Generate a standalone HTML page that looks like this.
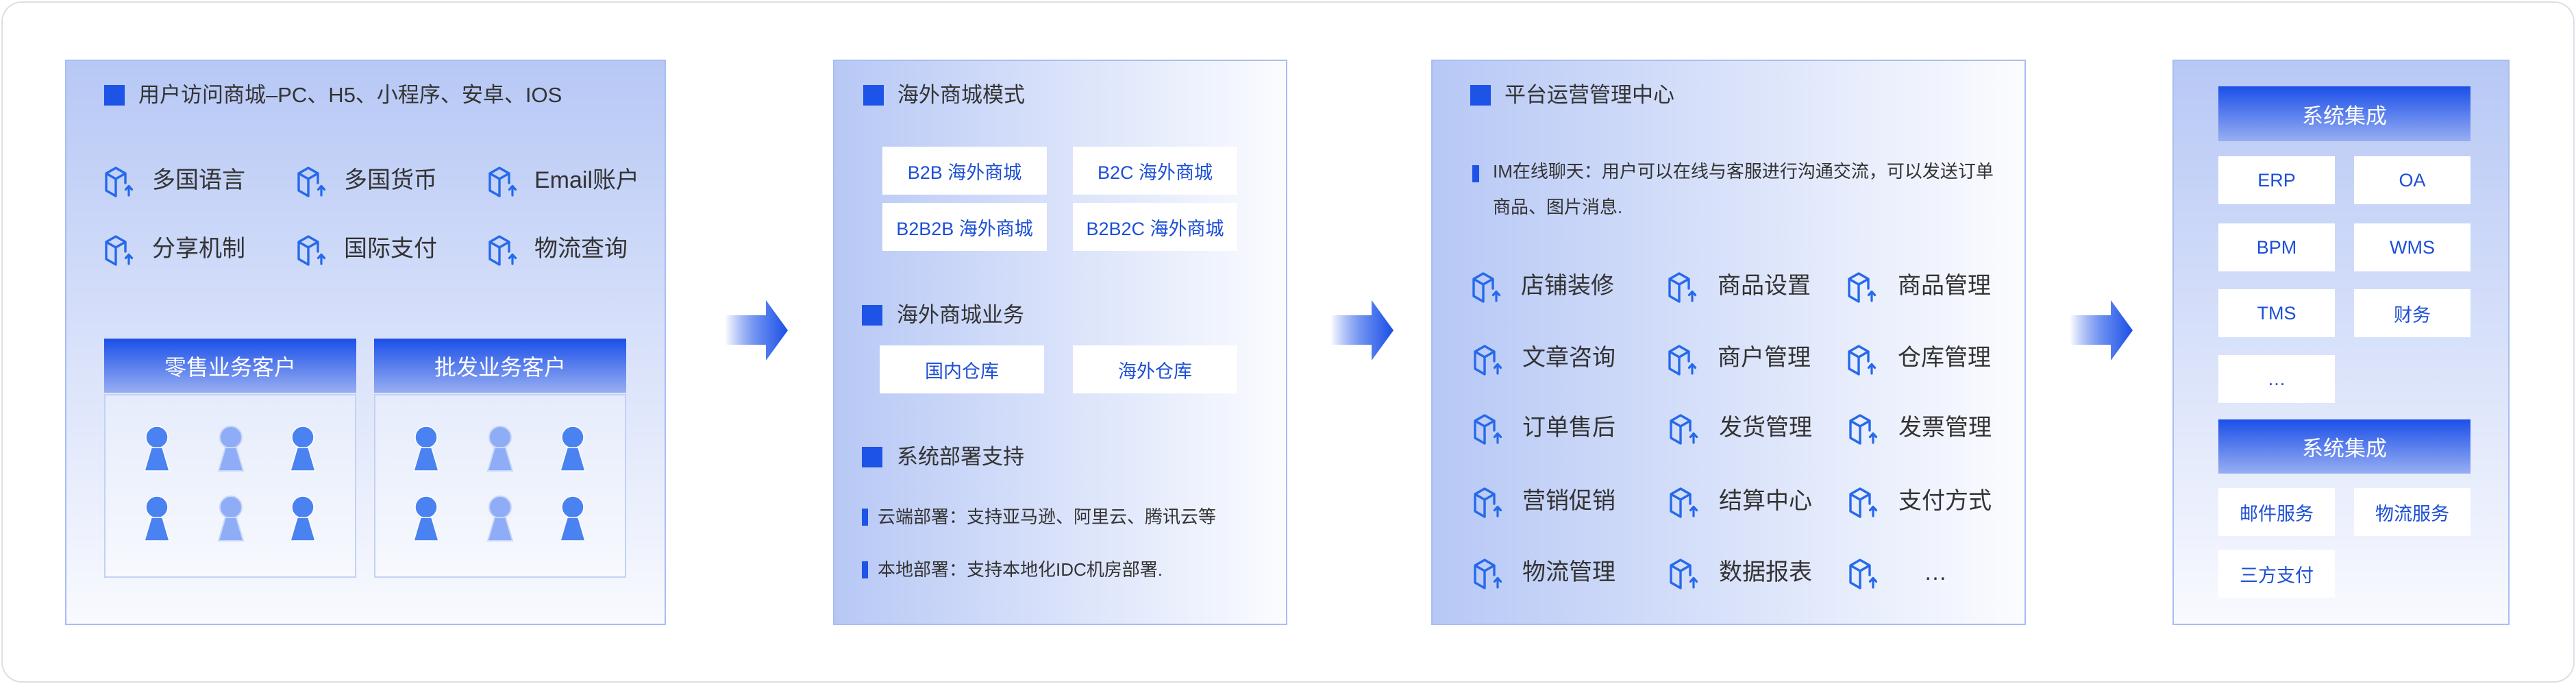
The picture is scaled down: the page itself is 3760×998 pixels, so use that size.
<!DOCTYPE html>
<html><head><meta charset="utf-8"><style>
*{margin:0;padding:0;box-sizing:border-box}
body{width:3760px;height:998px;background:#fff;position:relative;overflow:hidden;font-family:"Liberation Sans","Noto Sans CJK SC",sans-serif;}
.abs{position:absolute}
.outer{left:2px;top:2px;width:3756px;height:994px;border:2px solid #dcdfe6;border-radius:30px}
.panel{position:absolute;border:2px solid #a8bdf2;top:87px;height:825px}
.pv{background:linear-gradient(to bottom,#b7c8f5,#f9faff)}
.ph{background:linear-gradient(to right,#b7c8f5,#fbfcff)}
.sq{position:absolute;width:30px;height:30px;background:#1d53e6}
.t{position:absolute;white-space:nowrap;color:#333;line-height:1}
.ic{position:absolute;width:50px;height:50px}
.btn{position:absolute;background:#fff;color:#1d4fd6;font-size:27px;display:flex;align-items:center;justify-content:center;white-space:nowrap}
.hd{position:absolute;background:linear-gradient(to bottom,#1b4fe8,#97aef2);color:#fff;display:flex;align-items:center;justify-content:center;font-size:32px}
.bar{position:absolute;width:9px;height:25px;background:#1d53e6}
</style></head><body>
<div class="abs outer"></div>
<svg width="0" height="0" style="position:absolute"><defs>
<g id="cube" fill="none" stroke="#2569ec" stroke-width="3.4" stroke-linejoin="round" stroke-linecap="round">
<path d="M33 27 L33 13 L19 5 L5 13 L5 38 L19 46 M5 13 L19 21 L33 13 M19 21 L19 46"/>
<path d="M38 45 L38 32 M33.5 36.5 L38 31.5 L42.5 36.5" stroke-width="3.2"/>
</g>
<g id="pd"><circle cx="0" cy="0" r="16" fill="#4a82f2" stroke="#fff" stroke-width="1.5"/><path d="M-8 15 L8 15 L18 49 L-18 49 Z" fill="#4a82f2" stroke="#fff" stroke-width="1.5"/></g>
<g id="pl"><circle cx="0" cy="0" r="16" fill="#8eadf6" stroke="#c8d6fa" stroke-width="2"/><path d="M-8 15 L8 15 L18 49 L-18 49 Z" fill="#8eadf6" stroke="#c8d6fa" stroke-width="2"/></g>
<linearGradient id="ag" x1="0" x2="1"><stop offset="0" stop-color="#1a4fe6" stop-opacity="0"/><stop offset="0.6" stop-color="#5a82ef"/><stop offset="1" stop-color="#1a4fe6"/></linearGradient>
</defs></svg>

<!-- Panel 1 -->
<div class="panel pv" style="left:95px;width:877px"></div>
<div class="sq" style="left:152px;top:124px"></div>
<div class="t" style="left:202px;top:123px;font-size:31px">用户访问商城–PC、H5、小程序、安卓、IOS</div>
<svg class="ic" style="left:150px;top:240px"><use href="#cube"/></svg>
<svg class="ic" style="left:431px;top:240px"><use href="#cube"/></svg>
<svg class="ic" style="left:710px;top:240px"><use href="#cube"/></svg>
<svg class="ic" style="left:150px;top:340px"><use href="#cube"/></svg>
<svg class="ic" style="left:431px;top:340px"><use href="#cube"/></svg>
<svg class="ic" style="left:710px;top:340px"><use href="#cube"/></svg>
<div class="t" style="left:222px;top:246px;font-size:34px">多国语言</div>
<div class="t" style="left:502px;top:246px;font-size:34px">多国货币</div>
<div class="t" style="left:780px;top:246px;font-size:34px">Email账户</div>
<div class="t" style="left:222px;top:346px;font-size:34px">分享机制</div>
<div class="t" style="left:502px;top:346px;font-size:34px">国际支付</div>
<div class="t" style="left:780px;top:346px;font-size:34px">物流查询</div>
<div class="hd" style="left:152px;top:494px;width:368px;height:79px">零售业务客户</div>
<div class="abs" style="left:152px;top:575px;width:368px;height:268px;border:2px solid #c2d1f5;background:linear-gradient(#e6ecfb,#f7f9fe)"></div>
<div class="hd" style="left:546px;top:494px;width:368px;height:79px">批发业务客户</div>
<div class="abs" style="left:546px;top:575px;width:368px;height:268px;border:2px solid #c2d1f5;background:linear-gradient(#e6ecfb,#f7f9fe)"></div>
<svg class="abs" style="left:0;top:0" width="1000" height="900">
<use href="#pd" x="229" y="638"/><use href="#pl" x="337" y="638"/><use href="#pd" x="442" y="638"/>
<use href="#pd" x="229" y="740"/><use href="#pl" x="337" y="740"/><use href="#pd" x="442" y="740"/>
<use href="#pd" x="622" y="638"/><use href="#pl" x="730" y="638"/><use href="#pd" x="836" y="638"/>
<use href="#pd" x="622" y="740"/><use href="#pl" x="730" y="740"/><use href="#pd" x="836" y="740"/>
</svg>

<!-- Arrows -->
<svg class="abs" style="left:1058px;top:436px" width="96" height="92"><path d="M0 24 L60 24 L60 2 L92 46 L60 90 L60 67 L0 67 Z" fill="url(#ag)"/></svg>
<svg class="abs" style="left:1942px;top:436px" width="96" height="92"><path d="M0 24 L60 24 L60 2 L92 46 L60 90 L60 67 L0 67 Z" fill="url(#ag)"/></svg>
<svg class="abs" style="left:3021px;top:436px" width="96" height="92"><path d="M0 24 L60 24 L60 2 L92 46 L60 90 L60 67 L0 67 Z" fill="url(#ag)"/></svg>

<!-- Panel 2 -->
<div class="panel ph" style="left:1216px;width:663px"></div>
<div class="sq" style="left:1260px;top:124px"></div>
<div class="t" style="left:1310px;top:123px;font-size:31px">海外商城模式</div>
<div class="btn" style="left:1288px;top:214px;width:240px;height:70px">B2B 海外商城</div>
<div class="btn" style="left:1566px;top:214px;width:240px;height:70px">B2C 海外商城</div>
<div class="btn" style="left:1288px;top:296px;width:240px;height:70px">B2B2B 海外商城</div>
<div class="btn" style="left:1566px;top:296px;width:240px;height:70px">B2B2C 海外商城</div>
<div class="sq" style="left:1258px;top:445px"></div>
<div class="t" style="left:1309px;top:444px;font-size:31px">海外商城业务</div>
<div class="btn" style="left:1284px;top:504px;width:240px;height:70px">国内仓库</div>
<div class="btn" style="left:1566px;top:504px;width:240px;height:70px">海外仓库</div>
<div class="sq" style="left:1258px;top:652px"></div>
<div class="t" style="left:1309px;top:651px;font-size:31px">系统部署支持</div>
<div class="bar" style="left:1258px;top:742px"></div>
<div class="t" style="left:1281px;top:741px;font-size:26px">云端部署：支持亚马逊、阿里云、腾讯云等</div>
<div class="bar" style="left:1258px;top:819px"></div>
<div class="t" style="left:1281px;top:818px;font-size:26px">本地部署：支持本地化IDC机房部署.</div>

<!-- Panel 3 -->
<div class="panel ph" style="left:2089px;width:868px"></div>
<div class="sq" style="left:2146px;top:124px"></div>
<div class="t" style="left:2196px;top:123px;font-size:31px">平台运营管理中心</div>
<div class="bar" style="left:2149px;top:241px;width:10px"></div>
<div class="t" style="left:2179px;top:237px;font-size:26px">IM在线聊天：用户可以在线与客服进行沟通交流，可以发送订单</div>
<div class="t" style="left:2179px;top:289px;font-size:26px">商品、图片消息.</div>
<svg class="abs" style="left:0;top:0;" width="3000" height="900">
<use href="#cube" x="2146" y="394"/><use href="#cube" x="2432" y="394"/><use href="#cube" x="2694" y="394"/>
<use href="#cube" x="2148" y="500"/><use href="#cube" x="2432" y="500"/><use href="#cube" x="2694" y="500"/>
<use href="#cube" x="2148" y="601"/><use href="#cube" x="2434" y="601"/><use href="#cube" x="2696" y="601"/>
<use href="#cube" x="2148" y="708"/><use href="#cube" x="2434" y="708"/><use href="#cube" x="2696" y="708"/>
<use href="#cube" x="2148" y="812"/><use href="#cube" x="2434" y="812"/><use href="#cube" x="2696" y="812"/>
</svg>
<div class="t" style="left:2220px;top:400px;font-size:34px">店铺装修</div>
<div class="t" style="left:2507px;top:400px;font-size:34px">商品设置</div>
<div class="t" style="left:2770px;top:400px;font-size:34px">商品管理</div>
<div class="t" style="left:2222px;top:505px;font-size:34px">文章咨询</div>
<div class="t" style="left:2507px;top:505px;font-size:34px">商户管理</div>
<div class="t" style="left:2770px;top:505px;font-size:34px">仓库管理</div>
<div class="t" style="left:2222px;top:607px;font-size:34px">订单售后</div>
<div class="t" style="left:2509px;top:607px;font-size:34px">发货管理</div>
<div class="t" style="left:2771px;top:607px;font-size:34px">发票管理</div>
<div class="t" style="left:2222px;top:714px;font-size:34px">营销促销</div>
<div class="t" style="left:2509px;top:714px;font-size:34px">结算中心</div>
<div class="t" style="left:2771px;top:714px;font-size:34px">支付方式</div>
<div class="t" style="left:2222px;top:818px;font-size:34px">物流管理</div>
<div class="t" style="left:2509px;top:818px;font-size:34px">数据报表</div>
<div class="t" style="left:2808px;top:818px;font-size:34px">…</div>

<!-- Panel 4 -->
<div class="panel pv" style="left:3171px;width:492px"></div>
<div class="hd" style="left:3238px;top:126px;width:368px;height:80px;font-size:31px">系统集成</div>
<div class="btn" style="left:3238px;top:228px;width:170px;height:70px">ERP</div>
<div class="btn" style="left:3436px;top:228px;width:170px;height:70px">OA</div>
<div class="btn" style="left:3238px;top:326px;width:170px;height:70px">BPM</div>
<div class="btn" style="left:3436px;top:326px;width:170px;height:70px">WMS</div>
<div class="btn" style="left:3238px;top:422px;width:170px;height:70px">TMS</div>
<div class="btn" style="left:3436px;top:422px;width:170px;height:70px">财务</div>
<div class="btn" style="left:3238px;top:518px;width:170px;height:70px">…</div>
<div class="hd" style="left:3238px;top:612px;width:368px;height:79px;font-size:31px">系统集成</div>
<div class="btn" style="left:3238px;top:712px;width:170px;height:70px">邮件服务</div>
<div class="btn" style="left:3436px;top:712px;width:170px;height:70px">物流服务</div>
<div class="btn" style="left:3238px;top:802px;width:170px;height:70px">三方支付</div>
</body></html>
